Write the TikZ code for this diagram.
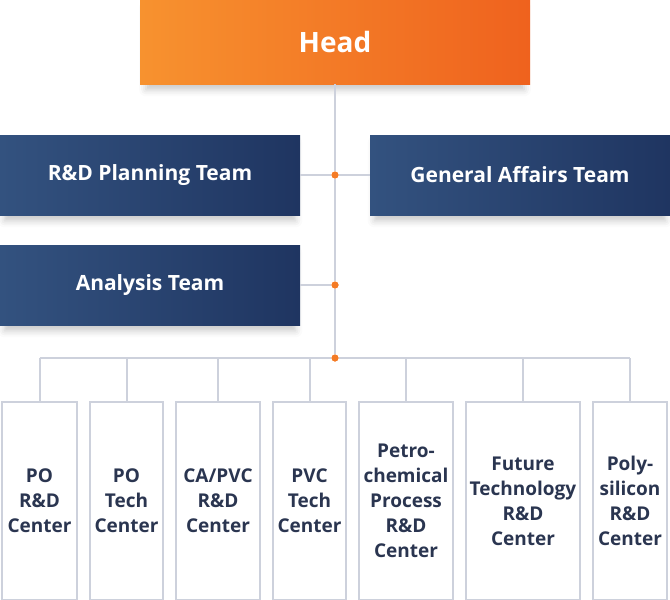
\documentclass[tikz,border=0pt]{standalone}
\usepackage{fontspec}
\setmainfont{Open Sans}
\usetikzlibrary{positioning, shadows.blur}
\definecolor{headlight}{HTML}{F7922F}
\definecolor{headdark}{HTML}{EF621E}
\definecolor{teamlight}{HTML}{33527F}
\definecolor{teamdark}{HTML}{1F3561}
\definecolor{linegray}{HTML}{CDD1DC}
\definecolor{dotorange}{HTML}{F47B25}
\definecolor{navytext}{HTML}{2A3550}
\tikzstyle{boxshadow} = [blur shadow={shadow xshift=0pt, shadow yshift=-7pt, shadow scale=0.97, shadow blur radius=7pt, shadow opacity=22}]
\tikzstyle{head} = [rectangle, inner sep=0pt, minimum width=390pt, minimum height=84pt, left color=headlight, right color=headdark, text=white, font=\bfseries\fontsize{28}{32}\selectfont, boxshadow]
\tikzstyle{team} = [rectangle, inner sep=0pt, minimum width=300pt, minimum height=80pt, left color=teamlight, right color=teamdark, text=white, font=\bfseries\fontsize{21}{24}\selectfont, boxshadow]
\tikzstyle{unit} = [rectangle, draw=linegray, line width=2pt, inner sep=0pt, minimum height=198pt, align=center, text=navytext, font=\bfseries\fontsize{19}{25}\selectfont]
\tikzstyle{link} = [draw=linegray, line width=2pt]
\tikzstyle{joint} = [circle, fill=dotorange, inner sep=0pt, minimum size=7pt]

\begin{document}
\begin{tikzpicture}[x=1pt, y=-1pt, node distance=11pt]
    \useasboundingbox (0,0) rectangle (670,600);

    % Nodes.

    % Head and teams.
    \node (head) [head] at (335,42) {Head};
    \node (team 1) [team] at (150,175) {R\&D Planning Team};
    \node (team 2) [team] at (520,175) {General Affairs Team};
    \node (team 3) [team] at (150,285) {Analysis Team};

    % Centers.
    \node (unit 1) [unit, minimum width=75pt, anchor=north west] at (1,401) {PO\\R\&D\\Center};
    \node (unit 2) [unit, minimum width=73pt, right=of unit 1] {PO\\Tech\\Center};
    \node (unit 3) [unit, minimum width=84pt, right=of unit 2] {CA/PVC\\R\&D\\Center};
    \node (unit 4) [unit, minimum width=73pt, right=of unit 3] {PVC\\Tech\\Center};
    \node (unit 5) [unit, minimum width=94pt, right=of unit 4] {Petro-\\chemical\\Process\\R\&D\\Center};
    \node (unit 6) [unit, minimum width=114pt, right=of unit 5] {Future\\Technology\\R\&D\\Center};
    \node (unit 7) [unit, minimum width=74pt, right=of unit 6] {Poly-\\silicon\\R\&D\\Center};

    % Joints.
    \coordinate (bus) at (335,358);
    \node (joint 1) [joint] at (head.south |- team 1) {};
    \node (joint 2) [joint] at (head.south |- team 3) {};
    \node (joint 3) [joint] at (bus) {};

    % Lines.
    \draw [link] (head.south) -- (joint 1) -- (joint 2) -- (joint 3);
    \draw [link] (team 1.east) -- (joint 1) -- (team 2.west);
    \draw [link] (team 3.east) -- (joint 2);
    \draw [link] (unit 1.north |- bus) -- (joint 3) -- (unit 7.north |- bus);

    \foreach \i in {1, ..., 7} {%
        \draw [link] (unit \i.north) -- (unit \i.north |- bus);
    }

    % Dots on top.
    \foreach \i in {1, 2, 3} {%
        \node [joint] at (joint \i) {};
    }
\end{tikzpicture}
\end{document}
